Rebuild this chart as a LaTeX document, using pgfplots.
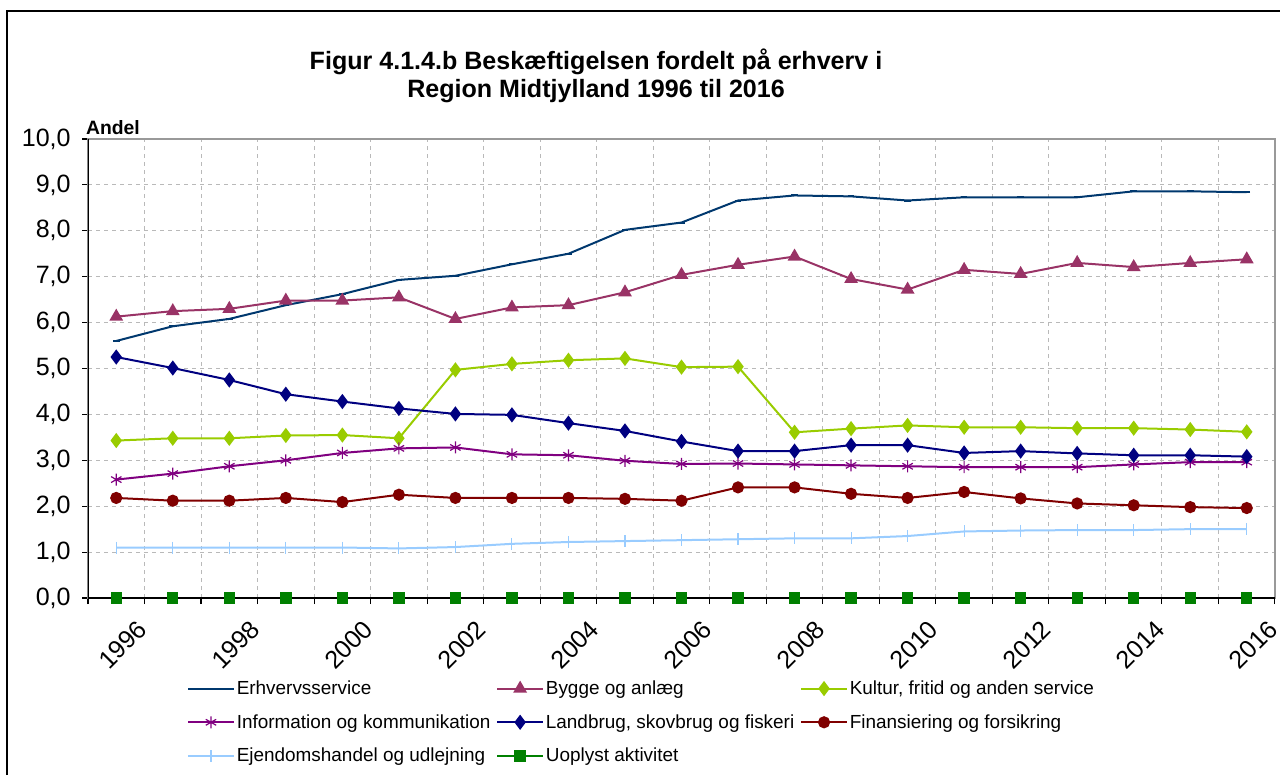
\documentclass[border=0pt]{standalone}
\usepackage{pgfplots}
\pgfplotsset{compat=1.18}
\usepackage{fontspec}
\setmainfont{Liberation Sans}
\definecolor{cErh}{RGB}{0,56,110}
\definecolor{cByg}{RGB}{153,51,102}
\definecolor{cKul}{RGB}{153,204,0}
\definecolor{cInf}{RGB}{128,0,128}
\definecolor{cLan}{RGB}{0,0,128}
\definecolor{cFin}{RGB}{128,0,0}
\definecolor{cEje}{RGB}{153,204,255}
\definecolor{cUop}{RGB}{0,128,0}
\begin{document}
\begin{tikzpicture}
\useasboundingbox (0,0) rectangle (960pt,581.25pt);
\draw[line width=0.9pt] (5.25pt,0) -- (5.25pt,573pt) -- (962pt,573pt);
\begin{axis}[
  at={(66pt,132.75pt)}, anchor=south west,
  scale only axis, width=890.25pt, height=344.25pt,
  xmin=1995.5, xmax=2016.5, ymin=0, ymax=10,
  xtick={1995.5,1996.5,...,2016.5}, xticklabels={},
  extra x ticks={1996,1998,...,2016},
  extra x tick labels={1996,1998,2000,2002,2004,2006,2008,2010,2012,2014,2016},
  extra x tick style={grid=none, major tick length=0pt,
     tick label style={rotate=45, anchor=north east, xshift=3pt, yshift=-18pt}},
  ytick={0,1,...,10},
  yticklabel style={xshift=-5pt, /pgf/number format/.cd, fixed, fixed zerofill, precision=1, use comma},
  /pgf/number format/assume math mode=true,
  tick label style={font=\fontsize{18.8}{20}\selectfont},
  ticklabel style={black},
  xmajorgrids, ymajorgrids,
  grid style={dashed, gray!55, line width=0.6pt},
  axis line style={gray!80, line width=1pt},
  tick pos=left, tick align=outside, major tick length=4.5pt,
  tick style={black, line width=0.8pt},
  legend columns=3,
  legend cell align=left,
  legend style={at={(0.080,-0.168)}, anchor=north west, draw=none, fill=none,
     font=\fontsize{14.2}{16}\selectfont, row sep=9.5pt,
     /tikz/every even column/.append style={column sep=3pt},
     nodes={inner xsep=1.5pt, inner ysep=2pt}},
  legend image code/.code={\draw[mark repeat=2,mark phase=2,#1] plot coordinates {(0cm,0cm) (0.6cm,0cm) (1.2cm,0cm)};},
  every axis plot/.append style={line width=1.5pt},
]
\addplot[cErh, mark=-, mark size=2.5pt] coordinates {
(1996,5.60)(1997,5.92)(1998,6.08)(1999,6.38)(2000,6.62)(2001,6.93)(2002,7.02)(2003,7.27)(2004,7.50)(2005,8.02)(2006,8.18)(2007,8.66)(2008,8.77)(2009,8.75)(2010,8.66)(2011,8.73)(2012,8.73)(2013,8.73)(2014,8.86)(2015,8.86)(2016,8.84)};
\addlegendentry{Erhvervsservice}
\addplot[cByg, mark=triangle*, mark size=4.5pt, mark options={solid}] coordinates {
(1996,6.13)(1997,6.25)(1998,6.30)(1999,6.48)(2000,6.48)(2001,6.55)(2002,6.08)(2003,6.33)(2004,6.38)(2005,6.66)(2006,7.04)(2007,7.26)(2008,7.44)(2009,6.95)(2010,6.72)(2011,7.15)(2012,7.06)(2013,7.30)(2014,7.21)(2015,7.30)(2016,7.38)};
\addlegendentry{Bygge og anlæg}
\addplot[cKul, mark=diamond*, mark size=4.5pt] coordinates {
(1996,3.43)(1997,3.48)(1998,3.48)(1999,3.54)(2000,3.55)(2001,3.48)(2002,4.97)(2003,5.10)(2004,5.18)(2005,5.22)(2006,5.03)(2007,5.04)(2008,3.61)(2009,3.69)(2010,3.76)(2011,3.72)(2012,3.72)(2013,3.70)(2014,3.70)(2015,3.67)(2016,3.62)};
\addlegendentry{Kultur, fritid og anden service}
\addplot[cInf, mark=asterisk, mark size=4.5pt, mark options={line width=0.9pt}] coordinates {
(1996,2.58)(1997,2.71)(1998,2.87)(1999,3.00)(2000,3.16)(2001,3.26)(2002,3.28)(2003,3.13)(2004,3.11)(2005,2.99)(2006,2.92)(2007,2.93)(2008,2.91)(2009,2.89)(2010,2.87)(2011,2.85)(2012,2.85)(2013,2.85)(2014,2.91)(2015,2.96)(2016,2.96)};
\addlegendentry{Information og kommunikation}
\addplot[cLan, mark=diamond*, mark size=4.5pt] coordinates {
(1996,5.25)(1997,5.01)(1998,4.75)(1999,4.44)(2000,4.28)(2001,4.13)(2002,4.01)(2003,3.99)(2004,3.81)(2005,3.64)(2006,3.41)(2007,3.20)(2008,3.20)(2009,3.33)(2010,3.33)(2011,3.16)(2012,3.20)(2013,3.15)(2014,3.11)(2015,3.11)(2016,3.08)};
\addlegendentry{Landbrug, skovbrug og fiskeri}
\addplot[cFin, mark=*, mark size=3.8pt] coordinates {
(1996,2.18)(1997,2.12)(1998,2.12)(1999,2.18)(2000,2.09)(2001,2.25)(2002,2.18)(2003,2.18)(2004,2.18)(2005,2.16)(2006,2.12)(2007,2.41)(2008,2.41)(2009,2.27)(2010,2.18)(2011,2.31)(2012,2.17)(2013,2.06)(2014,2.02)(2015,1.98)(2016,1.96)};
\addlegendentry{Finansiering og forsikring}
\addplot[cEje, mark=|, mark size=4.5pt, mark options={line width=0.8pt}] coordinates {
(1996,1.10)(1997,1.10)(1998,1.10)(1999,1.10)(2000,1.10)(2001,1.08)(2002,1.11)(2003,1.18)(2004,1.22)(2005,1.24)(2006,1.26)(2007,1.28)(2008,1.30)(2009,1.30)(2010,1.35)(2011,1.45)(2012,1.47)(2013,1.48)(2014,1.48)(2015,1.50)(2016,1.50)};
\addlegendentry{Ejendomshandel og udlejning}
\addplot[cUop, mark=square*, mark size=3.5pt] coordinates {
(1996,0)(1997,0)(1998,0)(1999,0)(2000,0)(2001,0)(2002,0)(2003,0)(2004,0)(2005,0)(2006,0)(2007,0)(2008,0)(2009,0)(2010,0)(2011,0)(2012,0)(2013,0)(2014,0)(2015,0)(2016,0)};
\addlegendentry{Uoplyst aktivitet}
\draw[black, line width=1.2pt] (rel axis cs:0,1) -- (rel axis cs:0,0) -- (rel axis cs:1,0);
\end{axis}
\node[anchor=west, font=\fontsize{14.5}{16}\selectfont\bfseries] at (61pt,485.25pt) {Andel};
\node[align=center, font=\fontsize{18.8}{21}\selectfont\bfseries] at (447pt,524.25pt) {Figur 4.1.4.b Beskæftigelsen fordelt på erhverv i\\Region Midtjylland 1996 til 2016};
\end{tikzpicture}
\end{document}
